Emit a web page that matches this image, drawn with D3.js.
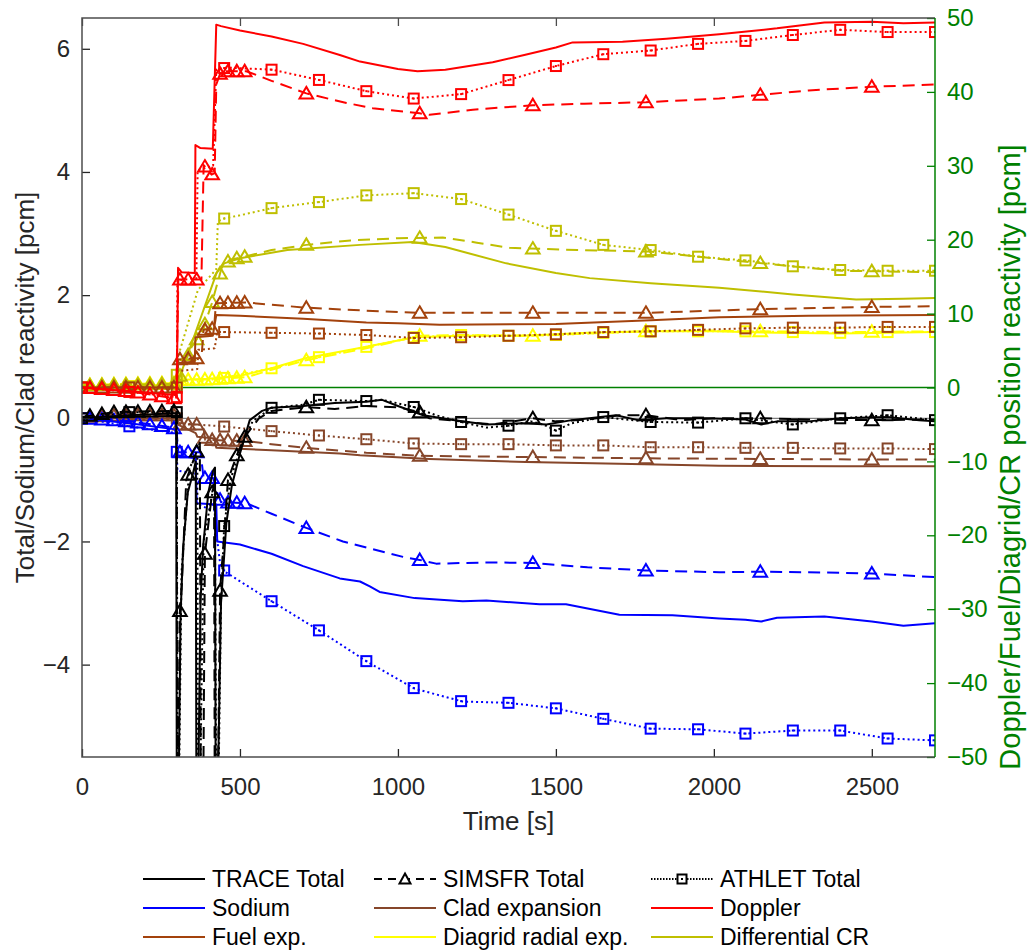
<!DOCTYPE html>
<html>
<head>
<meta charset="utf-8">
<script src="https://cdn.jsdelivr.net/npm/d3@7"></script>
<style>
  body { margin: 0; background: #fff; }
  svg { font-family: "Liberation Sans", Arial, sans-serif; }
</style>
</head>
<body>
<script>
// axes
var timeTicks = [0, 500, 1000, 1500, 2000, 2500];
var leftTicks = [-4, -2, 0, 2, 4, 6];
var rightTicks = [-50, -40, -30, -20, -10, 0, 10, 20, 30, 40, 50];

// marker times (s) of the two codes that use markers
var simsfrMarkerTimes = [25, 63, 101, 139, 177, 215, 253, 291, 310, 336, 363, 389, 412, 437, 462, 490, 515,
                         710, 1069, 1427, 1785, 2147, 2500];
var athletMarkerTimes = [0, 150, 300, 450, 600, 750, 900, 1050, 1200, 1350, 1500, 1650, 1800, 1950,
                         2100, 2250, 2400, 2550, 2700];

// ---- left axis quantities [pcm] ----
var totalTrace = [[0,0],[150,0.05],[298,0.08],[300,-6],[306,-6],[312,-3.2],[320,-2.1],[335,-1.2],[351,-0.9],
  [360,-0.7],[362,-6],[368,-6],[375,-3],[383,-2.1],[400,-1.2],[415,-0.85],[421,-0.8],[423,-6],[430,-6],
  [440,-3.0],[457,-1.7],[474,-1.1],[500,-0.57],[531,-0.03],[570,0.12],[600,0.17],[700,0.2],[800,0.25],
  [900,0.27],[950,0.3],[1000,0.2],[1080,0.05],[1180,-0.03],[1280,-0.1],[1400,-0.08],[1470,-0.1],
  [1550,-0.03],[1690,0.05],[1760,-0.03],[1850,0.0],[1975,0.0],[2100,-0.02],[2150,-0.1],[2200,-0.05],
  [2300,-0.05],[2400,0.0],[2550,0.02],[2650,-0.03],[2700,-0.05]];
var totalSimsfr = [[0,0.02],[100,0.1],[290,0.12],[300,0.1],[301,-6],[305,-6],[309,-3.2],[316,-2.7],[330,-1.0],
  [373,-0.4],[376,-6],[384,-6],[389,-2.2],[412,-1.2],[418,-1.1],[420,-6],[430,-6],[437,-2.8],[452,-1.75],
  [462,-1.0],[490,-0.6],[515,-0.3],[560,0.0],[600,0.12],[710,0.18],[800,0.15],[900,0.2],[1000,0.18],
  [1069,0.1],[1100,0.0],[1200,-0.05],[1300,-0.1],[1427,0.0],[1500,-0.05],[1600,-0.02],[1700,0.05],
  [1785,0.05],[1900,-0.03],[2000,0.0],[2147,0.0],[2300,-0.02],[2500,-0.03],[2700,-0.02]];
var totalAthlet = [[0,0],[150,0.1],[300,0.1],[302,-6],[307,-6],[315,-2.5],[340,-0.8],[365,-0.6],[367,-6],
  [374,-6],[385,-2],[420,-1.0],[425,-6],[432,-6],[440,-3],[450,-1.75],[470,-1.0],[500,-0.5],[540,-0.05],
  [600,0.17],[700,0.22],[750,0.3],[900,0.28],[950,0.3],[1053,0.18],[1120,0.05],[1200,-0.06],[1280,-0.15],
  [1350,-0.12],[1420,-0.05],[1460,-0.1],[1500,-0.2],[1550,-0.08],[1650,0.02],[1800,-0.06],[1950,-0.07],
  [2100,0.0],[2250,-0.1],[2400,0.0],[2550,0.05],[2700,-0.03]];

var sodiumTrace = [[0,0],[150,-0.08],[295,-0.18],[300,-0.3],[303,-0.6],[360,-0.65],[363,-1.38],[425,-1.4],
  [428,-2.0],[500,-2.05],[600,-2.2],[700,-2.4],[816,-2.6],[880,-2.65],[911,-2.73],[942,-2.82],[1053,-2.92],
  [1205,-2.97],[1280,-2.96],[1448,-3.02],[1532,-3.02],[1701,-3.19],[1869,-3.2],[2017,-3.25],[2100,-3.27],
  [2150,-3.3],[2200,-3.24],[2350,-3.22],[2500,-3.3],[2600,-3.37],[2700,-3.33]];
var sodiumSimsfr = [[0,0],[150,-0.05],[290,-0.15],[300,-0.25],[305,-0.55],[375,-0.55],[385,-0.97],[415,-0.97],
  [425,-1.17],[440,-1.36],[521,-1.38],[600,-1.55],[710,-1.78],[826,-2.0],[1016,-2.25],[1069,-2.3],
  [1121,-2.36],[1300,-2.34],[1427,-2.35],[1600,-2.42],[1783,-2.47],[2017,-2.5],[2147,-2.49],[2300,-2.5],
  [2500,-2.52],[2700,-2.58]];
var sodiumAthlet = [[0,0],[150,-0.13],[298,-0.24],[302,-0.85],[360,-0.9],[363,-1.4],[420,-1.5],[425,-1.86],
  [437,-2.35],[452,-2.49],[603,-2.98],[752,-3.45],[905,-3.96],[1053,-4.39],[1205,-4.6],[1350,-4.62],
  [1500,-4.71],[1650,-4.88],[1800,-5.04],[1950,-5.05],[2100,-5.12],[2250,-5.07],[2400,-5.07],[2550,-5.2],
  [2700,-5.23]];

var cladTrace = [[0,0],[298,0],[302,-0.1],[360,-0.24],[365,-0.3],[420,-0.33],[425,-0.48],[600,-0.52],
  [816,-0.57],[880,-0.6],[1100,-0.66],[1405,-0.71],[1700,-0.74],[2017,-0.77],[2400,-0.78],[2700,-0.78]];
var cladSimsfr = [[0,0.02],[150,0.05],[298,0.05],[302,-0.1],[383,-0.1],[390,-0.35],[521,-0.37],[600,-0.42],
  [710,-0.48],[900,-0.56],[1069,-0.61],[1427,-0.63],[1783,-0.65],[2147,-0.66],[2500,-0.67],[2700,-0.67]];
var cladAthlet = [[0,0],[150,0],[300,0],[305,-0.08],[442,-0.13],[603,-0.21],[752,-0.28],[900,-0.34],
  [1053,-0.41],[1200,-0.42],[1350,-0.42],[1500,-0.44],[1650,-0.44],[1800,-0.47],[1950,-0.47],[2100,-0.48],
  [2250,-0.48],[2400,-0.49],[2550,-0.49],[2700,-0.5]];

// ---- right axis quantities [pcm] ----
var dopplerTrace = [[0,0],[150,-0.5],[295,-1.0],[300,-1.2],[304,16.2],[315,15.6],[357,15.5],[359,32.8],
  [375,32.4],[414,32.3],[425,49.1],[440,48.9],[500,48.3],[600,47.5],[700,46.5],[816,45.0],[880,44.1],
  [1000,43.1],[1062,42.8],[1150,43.0],[1300,44.0],[1400,45.0],[1500,46.0],[1553,46.7],[1711,46.8],
  [1850,47.2],[2017,47.8],[2200,48.6],[2350,49.4],[2500,49.5],[2600,49.3],[2700,49.4]];
var dopplerSimsfr = [[0,0],[150,-0.5],[298,-1.5],[305,14.6],[378,14.6],[385,30.1],[410,28.8],[420,29],
  [425,41],[440,42.8],[520,42.8],[600,41.5],[710,39.8],[837,38.5],[920,37.8],[1069,37.1],[1100,36.9],
  [1237,37.6],[1427,38.2],[1590,38.4],[1785,38.6],[2017,39.1],[2147,39.6],[2300,40.2],[2500,40.7],[2700,41]];
var dopplerAthlet = [[0,0],[150,-0.6],[300,-1.3],[302,14.5],[362,14.8],[366,29.4],[415,30],[425,43],
  [458,43.3],[603,43.0],[752,41.6],[900,40.1],[1050,39.1],[1200,39.7],[1350,41.6],[1500,43.5],[1650,45.1],
  [1800,45.6],[1950,46.5],[2100,46.9],[2250,47.7],[2400,48.4],[2550,48.1],[2700,48.1]];

var fuelTrace = [[0,0],[300,0],[304,3.3],[357,3.5],[359,6.8],[414,7],[425,9.8],[500,9.7],[700,9.3],
  [900,8.8],[1000,8.7],[1132,8.5],[1500,8.6],[1800,9.1],[2017,9.5],[2300,9.7],[2700,9.8]];
var fuelSimsfr = [[0,0],[300,0],[305,3.8],[378,4.0],[385,7.8],[418,8.0],[424,11.4],[521,11.5],[600,11.2],
  [710,10.8],[900,10.4],[1069,10.1],[1427,10.1],[1783,10.1],[2147,10.6],[2500,10.9],[2700,11.0]];
var fuelAthlet = [[0,0],[300,0],[302,2.2],[365,2.5],[368,5.1],[420,5.3],[428,7.5],[452,7.5],[603,7.4],
  [752,7.3],[900,7.1],[1053,6.7],[1200,6.8],[1350,7.0],[1500,7.2],[1650,7.5],[1800,7.6],[1950,7.8],
  [2100,8.0],[2250,8.1],[2400,8.1],[2550,8.2],[2700,8.2]];

var diagridTrace = [[0,0],[150,0.2],[298,0.4],[305,1.0],[400,1.2],[500,1.6],[600,2.6],[710,4.0],[900,5.5],
  [1053,6.8],[1200,7.0],[1400,7.0],[1600,7.4],[1800,7.6],[2000,7.6],[2200,7.4],[2400,7.3],[2700,7.5]];
var diagridSimsfr = [[0,0.3],[150,0.5],[298,0.6],[305,1.0],[400,1.1],[521,1.4],[600,2.4],[710,3.7],[900,5.3],
  [1069,7.0],[1200,7.1],[1423,7.0],[1600,7.3],[1785,7.6],[2000,7.7],[2147,7.6],[2402,7.5],[2700,7.6]];
var diagridAthlet = [[0,0],[150,0.2],[300,0.4],[450,1.3],[600,2.6],[750,4.1],[900,5.5],[1050,6.8],[1200,7.1],
  [1350,7.0],[1500,7.1],[1650,7.4],[1800,7.6],[1950,7.6],[2100,7.6],[2250,7.5],[2400,7.4],[2550,7.5],
  [2700,7.5]];

var crTrace = [[0,0],[298,0],[300,0.3],[373,9.1],[426,15.5],[450,16.8],[500,17.5],[650,18.6],[880,19.3],
  [1047,19.7],[1150,19.0],[1343,16.8],[1500,15.5],[1607,14.8],[1800,14.1],[2017,13.5],[2250,12.6],
  [2450,11.9],[2600,12.0],[2700,12.1]];
var crSimsfr = [[0,0.3],[150,0.4],[298,0.5],[305,1.0],[320,2.8],[347,5.5],[383,7.8],[411,11.4],[442,16.2],
  [468,17.3],[515,17.7],[600,18.6],[710,19.3],[850,19.9],[1000,20.2],[1142,20.3],[1250,19.6],[1353,18.9],
  [1568,18.6],[1795,18.4],[1996,17.5],[2222,16.5],[2402,15.8],[2700,15.6]];
var crAthlet = [[0,0],[298,0.2],[303,4],[367,13.2],[425,16],[430,22.5],[452,22.9],[500,23.3],[603,24.3],
  [752,25.1],[900,26.0],[1050,26.3],[1200,25.5],[1350,23.4],[1500,21.2],[1650,19.3],[1800,18.6],
  [1950,17.7],[2100,17.2],[2250,16.4],[2400,15.9],[2550,15.8],[2700,15.8]];

// quantity -> colour / axis
var quantities = [
  {name: "Diagrid radial exp.", color: "#ffff00", axis: "R", runs: [diagridTrace, diagridSimsfr, diagridAthlet]},
  {name: "Differential CR", color: "#bfbf00", axis: "R", runs: [crTrace, crSimsfr, crAthlet]},
  {name: "Fuel exp.", color: "#a3420c", axis: "R", runs: [fuelTrace, fuelSimsfr, fuelAthlet]},
  {name: "Doppler", color: "#ff0000", axis: "R", runs: [dopplerTrace, dopplerSimsfr, dopplerAthlet]},
  {name: "Clad expansion", color: "#86462a", axis: "L", runs: [cladTrace, cladSimsfr, cladAthlet]},
  {name: "Sodium", color: "#0000ff", axis: "L", runs: [sodiumTrace, sodiumSimsfr, sodiumAthlet]},
  {name: "Total", color: "#000000", axis: "L", runs: [totalTrace, totalSimsfr, totalAthlet]}
];
var dashes = [null, "12,7", "2,3"];
var markerTimes = [null, simsfrMarkerTimes, athletMarkerTimes];

var plot = {left: 82, right: 935, top: 18, bottom: 757};
var green = "#008000";
var axisGrey = "#4d4d4d";

var svg = d3.select("body").append("svg")
    .attr("width", 1032)
    .attr("height", 951);

var x = d3.scaleLinear().domain([0, 2700]).range([plot.left, plot.right]);
var yL = d3.scaleLinear().domain([-5.5, 6.5]).range([plot.bottom, plot.top]);
var yR = d3.scaleLinear().domain([-50, 50]).range([plot.bottom, plot.top]);

svg.append("clipPath").attr("id", "clip")
  .append("rect")
    .attr("x", plot.left).attr("y", plot.top)
    .attr("width", plot.right - plot.left).attr("height", plot.bottom - plot.top);

// zero lines of both axes
svg.append("line")
    .attr("x1", plot.left).attr("x2", plot.right)
    .attr("y1", yL(0)).attr("y2", yL(0))
    .attr("stroke", "#7f7f7f").attr("stroke-width", 1.2);
svg.append("line")
    .attr("x1", plot.left).attr("x2", plot.right)
    .attr("y1", yR(0)).attr("y2", yR(0))
    .attr("stroke", green).attr("stroke-width", 1.5);

var g = svg.append("g").attr("clip-path", "url(#clip)");

var trianglePath = "M0,-6.5L6.8,5L-6.8,5Z";

quantities.forEach(function(q){
  var y = q.axis === "L" ? yL : yR;
  q.runs.forEach(function(run, i){
    var line = d3.line()
        .x(function(d){ return x(d[0]); })
        .y(function(d){ return y(d[1]); });
    g.append("path")
        .datum(run)
        .attr("d", line)
        .attr("fill", "none")
        .attr("stroke", q.color)
        .attr("stroke-width", 2)
        .attr("stroke-linejoin", "round")
        .attr("stroke-dasharray", dashes[i]);

    if (!markerTimes[i]) return;
    // piecewise linear scale through the run, to sit markers on the curve
    var onCurve = d3.scaleLinear()
        .domain(run.map(function(d){ return d[0]; }))
        .range(run.map(function(d){ return d[1]; }));
    var pts = markerTimes[i].map(function(t){ return [x(t), y(onCurve(t))]; });
    if (i === 1) {
      g.selectAll(null).data(pts).enter().append("path")
          .attr("d", trianglePath)
          .attr("transform", function(p){ return "translate(" + p[0] + "," + p[1] + ")"; })
          .attr("fill", "none")
          .attr("stroke", q.color)
          .attr("stroke-width", 2);
    } else {
      g.selectAll(null).data(pts).enter().append("rect")
          .attr("x", function(p){ return p[0] - 5; })
          .attr("y", function(p){ return p[1] - 5; })
          .attr("width", 10).attr("height", 10)
          .attr("fill", "none")
          .attr("stroke", q.color)
          .attr("stroke-width", 2);
      g.selectAll(null).data(pts).enter().append("rect")
          .attr("x", function(p){ return p[0] - 1; })
          .attr("y", function(p){ return p[1] - 1; })
          .attr("width", 2).attr("height", 2)
          .attr("fill", q.color);
    }
  });
});

// ---- axes ----
function styleAxis(sel, color, fontSize) {
  sel.select(".domain").remove();
  sel.selectAll(".tick line").attr("stroke", color).attr("stroke-width", 1.3);
  sel.selectAll(".tick text").attr("fill", color).style("font-size", fontSize + "px");
}

svg.append("g")
    .attr("transform", "translate(0," + plot.bottom + ")")
    .call(d3.axisBottom(x).tickValues(timeTicks).tickFormat(d3.format("d"))
      .tickSizeInner(-8).tickSizeOuter(0).tickPadding(21))
    .call(styleAxis, "#262626", 24);

svg.append("g")
    .attr("transform", "translate(0," + plot.top + ")")
    .call(d3.axisTop(x).tickValues(timeTicks).tickSizeInner(-8).tickSizeOuter(0).tickFormat(""))
    .call(styleAxis, axisGrey, 24);

svg.append("g")
    .attr("transform", "translate(" + plot.left + ",0)")
    .call(d3.axisLeft(yL).tickValues(leftTicks).tickSizeInner(-8).tickSizeOuter(0).tickPadding(12))
    .call(styleAxis, "#262626", 24);

svg.append("g")
    .attr("transform", "translate(" + plot.right + ",0)")
    .call(d3.axisRight(yR).tickValues(rightTicks).tickSizeInner(-8).tickSizeOuter(0).tickPadding(12))
    .call(styleAxis, green, 24);

// box
svg.append("path")
    .attr("d", "M" + plot.right + "," + plot.top + "H" + plot.left + "V" + plot.bottom + "H" + plot.right)
    .attr("fill", "none").attr("stroke", axisGrey).attr("stroke-width", 1.5);
svg.append("line")
    .attr("x1", plot.right).attr("x2", plot.right)
    .attr("y1", plot.top).attr("y2", plot.bottom)
    .attr("stroke", green).attr("stroke-width", 1.5);

// axis titles
svg.append("text")
    .attr("x", (plot.left + plot.right) / 2).attr("y", 830)
    .attr("text-anchor", "middle")
    .style("font-size", "26px").attr("fill", "#262626")
    .text("Time [s]");
svg.append("text")
    .attr("transform", "translate(34," + (plot.top + plot.bottom) / 2 + ") rotate(-90)")
    .attr("text-anchor", "middle")
    .style("font-size", "26px").attr("fill", "#262626")
    .text("Total/Sodium/Clad reactivity [pcm]");
svg.append("text")
    .attr("transform", "translate(1020,457) rotate(-90)")
    .attr("text-anchor", "middle")
    .style("font-size", "29px").attr("fill", green)
    .text("Doppler/Fuel/Diagrid/CR position reactivity [pcm]");

// ---- legend ----
var legendItems = [
  {label: "TRACE Total", color: "#000000", dash: null, mark: null},
  {label: "SIMSFR Total", color: "#000000", dash: "8,6", mark: "tri"},
  {label: "ATHLET Total", color: "#000000", dash: "1.5,1.5", mark: "sq"},
  {label: "Sodium", color: "#0000ff"},
  {label: "Clad expansion", color: "#86462a"},
  {label: "Doppler", color: "#ff0000"},
  {label: "Fuel exp.", color: "#a3420c"},
  {label: "Diagrid radial exp.", color: "#ffff00"},
  {label: "Differential CR", color: "#bfbf00"}
];
var legendColX = [143, 374, 651];
var legendRowY = [879, 908, 937];
var legendLineLen = 62;

var lg = svg.append("g");
legendItems.forEach(function(item, k){
  var cx = legendColX[k % 3], cy = legendRowY[Math.floor(k / 3)];
  lg.append("line")
      .attr("x1", cx).attr("x2", cx + legendLineLen)
      .attr("y1", cy).attr("y2", cy)
      .attr("stroke", item.color).attr("stroke-width", 2)
      .attr("stroke-dasharray", item.dash || null);
  var mx = cx + legendLineLen / 2;
  if (item.mark === "tri") {
    lg.append("path").attr("d", "M0,-5.5L5.5,4.5L-5.5,4.5Z")
        .attr("transform", "translate(" + mx + "," + cy + ")")
        .attr("fill", "#fff").attr("stroke", item.color).attr("stroke-width", 2);
  } else if (item.mark === "sq") {
    lg.append("rect").attr("x", mx - 4.5).attr("y", cy - 4.5).attr("width", 9).attr("height", 9)
        .attr("fill", "#fff").attr("stroke", item.color).attr("stroke-width", 2);
    lg.append("rect").attr("x", mx - 1).attr("y", cy - 1).attr("width", 2).attr("height", 2)
        .attr("fill", item.color);
  }
  lg.append("text")
      .attr("x", cx + legendLineLen + 7).attr("y", cy)
      .attr("dy", "0.35em")
      .style("font-size", "23px").attr("fill", "#000")
      .text(item.label);
});
</script>
</body>
</html>
